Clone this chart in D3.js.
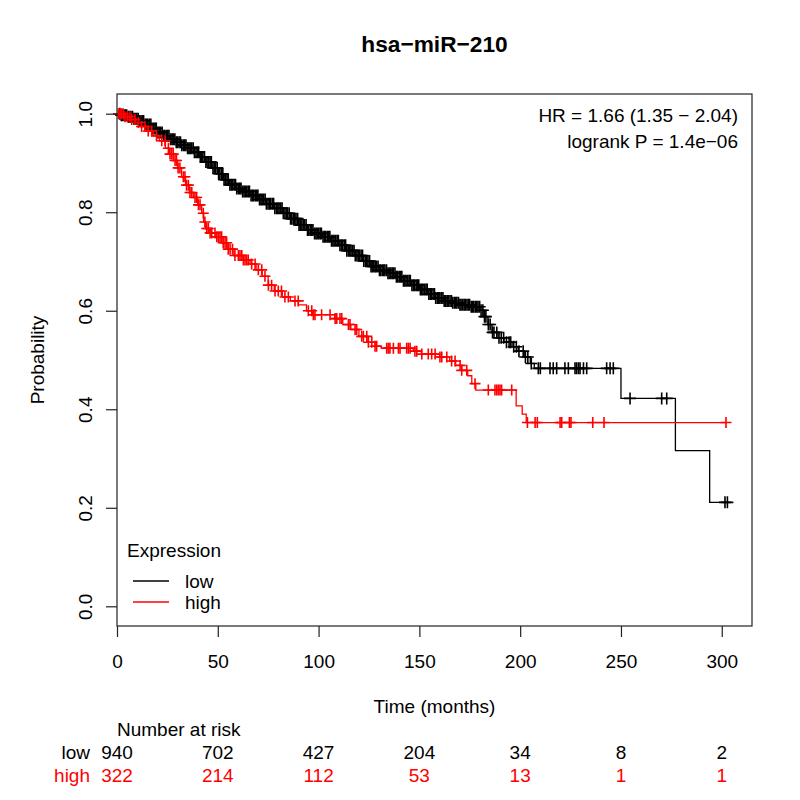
<!DOCTYPE html>
<html>
<head>
<meta charset="utf-8">
<script src="https://cdn.jsdelivr.net/npm/d3@7"></script>
<style>
  body { margin: 0; background: #fff; }
  text { font-family: "Liberation Sans", Arial, Helvetica, sans-serif; }
</style>
</head>
<body>
<script>
let w = 800;
let h = 800;

// Kaplan-Meier steps (time in months, survival after the step)
const lowTime = [0, 2, 5, 8, 11, 14, 17, 20, 23, 26, 29, 32, 35, 38, 41, 44, 47, 50, 53, 56, 59, 62, 66, 70, 74, 78, 82, 86, 90, 94, 98, 102, 106, 110, 114, 118, 122, 126, 130, 134, 138, 142, 146, 150, 154, 158, 162, 166, 170, 175, 180, 182, 184, 186, 189, 192, 196, 199, 202, 205, 207, 250, 277, 294];
const lowSurv = [1.0, 0.997, 0.994, 0.99, 0.985, 0.978, 0.97, 0.962, 0.955, 0.948, 0.942, 0.936, 0.93, 0.922, 0.912, 0.902, 0.89, 0.878, 0.866, 0.856, 0.848, 0.842, 0.834, 0.826, 0.817, 0.808, 0.798, 0.787, 0.774, 0.764, 0.757, 0.75, 0.742, 0.733, 0.722, 0.712, 0.701, 0.69, 0.682, 0.676, 0.669, 0.661, 0.652, 0.643, 0.634, 0.626, 0.62, 0.616, 0.612, 0.608, 0.601, 0.588, 0.572, 0.556, 0.545, 0.536, 0.527, 0.518, 0.506, 0.493, 0.483, 0.422, 0.316, 0.211];
const lowCensor = [1.4, 2.1, 2.7, 3.5, 4.2, 4.8, 5.6, 6.3, 6.9, 7.7, 8.4, 9.0, 9.8, 10.5, 11.1, 11.9, 12.6, 13.2, 14.0, 14.7, 15.3, 16.1, 16.8, 17.4, 18.2, 18.9, 19.5, 20.3, 21.0, 21.6, 22.4, 23.1, 23.7, 24.5, 25.2, 25.8, 26.6, 27.3, 27.9, 28.7, 29.4, 30.0, 30.8, 31.5, 32.1, 32.9, 33.6, 34.2, 35.0, 35.7, 36.3, 37.1, 37.8, 38.4, 39.2, 39.9, 40.5, 41.3, 42.0, 42.6, 43.4, 44.1, 44.7, 45.5, 46.2, 46.8, 47.6, 48.3, 48.9, 49.7, 50.4, 51.0, 51.8, 52.5, 53.1, 53.9, 54.6, 55.2, 56.0, 56.7, 57.3, 58.1, 58.8, 59.4, 60.2, 60.9, 61.5, 62.3, 63.0, 63.6, 64.4, 65.1, 65.7, 66.5, 67.2, 67.8, 68.6, 69.3, 69.9, 70.7, 71.4, 72.0, 72.8, 73.5, 74.1, 74.9, 75.6, 76.2, 77.0, 77.7, 78.3, 79.1, 79.8, 80.4, 81.2, 81.9, 82.5, 83.3, 84.0, 84.6, 85.4, 86.1, 86.7, 87.5, 88.2, 88.8, 89.6, 90.3, 90.9, 91.7, 92.4, 93.0, 93.8, 94.5, 95.1, 95.9, 96.6, 97.2, 98.0, 98.7, 99.3, 100.1, 100.8, 101.4, 102.2, 102.9, 103.5, 104.3, 105.0, 105.6, 106.4, 107.1, 107.7, 108.5, 109.2, 109.8, 110.6, 111.3, 111.9, 112.7, 113.4, 114.0, 114.8, 115.5, 116.1, 116.9, 117.6, 118.2, 119.0, 119.7, 120.3, 121.1, 121.8, 122.4, 123.2, 123.9, 124.5, 125.3, 126.0, 126.6, 127.4, 128.1, 128.7, 129.5, 130.2, 130.8, 131.6, 132.3, 132.9, 133.7, 134.4, 135.0, 135.8, 136.5, 137.1, 137.9, 138.6, 139.2, 140.0, 140.7, 141.3, 142.1, 142.8, 143.4, 144.2, 144.9, 145.5, 146.3, 147.0, 147.6, 148.4, 149.1, 149.7, 150.5, 151.2, 151.8, 152.6, 153.3, 153.9, 154.7, 155.4, 156.0, 156.8, 157.5, 158.1, 158.9, 159.6, 160.2, 161.0, 161.7, 162.3, 163.1, 163.8, 164.4, 165.2, 165.9, 166.5, 167.3, 168.0, 168.6, 169.4, 170.1, 170.7, 171.5, 172.2, 172.8, 173.6, 174.3, 174.9, 175.7, 176.4, 177.0, 177.8, 178.5, 179.1, 179.9, 180.6, 181.5, 182.3, 183.0, 184.2, 185.1, 186.3, 187.0, 188.4, 189.5, 190.6, 191.8, 193.2, 194.5, 195.3, 196.8, 198.1, 199.4, 201.5, 202.6, 203.8, 205.5, 209, 210, 214.8, 216.4, 218.1, 222.2, 223.9, 227.2, 228, 228.9, 229.7, 231.4, 233, 242.9, 244.6, 246.2, 254.5, 270.2, 272.7, 301.6, 302.8];

const highTime = [0, 4, 7, 9, 12, 15, 18, 21, 24, 26, 28, 30, 32, 34, 36, 38, 40, 42, 43, 44, 46, 49, 52, 55, 58, 62, 66, 69, 72, 75, 78, 82, 86, 90, 94, 97, 108, 112, 116, 120, 124, 128, 131, 147, 151, 160, 165, 168, 171, 174, 176, 178, 198, 201, 203];
const highSurv = [1.0, 0.994, 0.988, 0.982, 0.974, 0.965, 0.955, 0.945, 0.93, 0.918, 0.905, 0.89, 0.872, 0.855, 0.84, 0.83, 0.815, 0.798, 0.78, 0.767, 0.758, 0.75, 0.738, 0.725, 0.712, 0.703, 0.695, 0.683, 0.67, 0.652, 0.64, 0.628, 0.62, 0.612, 0.6, 0.592, 0.584, 0.572, 0.562, 0.548, 0.536, 0.528, 0.524, 0.518, 0.512, 0.506, 0.498, 0.489, 0.479, 0.468, 0.452, 0.439, 0.407, 0.39, 0.373];
const highCensor = [0.7, 1.5, 2.3, 3.1, 4, 5.2, 6.4, 7.3, 8.9, 10.6, 12.2, 13.9, 15.5, 17.2, 19.6, 22.2, 23.8, 25.5, 26.3, 27.1, 27.9, 28.8, 29.5, 30.3, 31.2, 32.9, 33.7, 34.5, 35.4, 36.2, 37.1, 38.7, 39.5, 40.4, 41.2, 42.8, 43.6, 44.5, 45.3, 46.2, 47, 48.6, 49.5, 50.3, 51.1, 51.9, 52.7, 53.6, 54.4, 55.2, 56.1, 57.3, 58.5, 60.2, 61, 61.9, 62.7, 63.5, 64.3, 65.1, 66.8, 68.5, 70.1, 71.8, 73.4, 75.1, 76.7, 78.4, 80, 81.6, 83.3, 85, 88.3, 89.9, 94.9, 96.6, 97.4, 98.2, 101.5, 105.7, 108.2, 109, 110.6, 111.5, 114.8, 115.6, 118.1, 118.9, 121.4, 122.2, 123.9, 124.7, 126.4, 128, 128.8, 133.8, 134.6, 135.4, 137.1, 139.6, 140.4, 143.7, 144.5, 145.4, 147.8, 148.7, 151.2, 154.4, 156.1, 157.8, 160.2, 161.1, 163.6, 166, 167.7, 170.2, 171, 173.5, 177.6, 184.2, 187.5, 188.4, 189.2, 190, 190.8, 195.8, 203.6, 207.4, 208.5, 219.8, 220.6, 224.4, 225.2, 236, 241.6, 302.1];

const groups = ["low", "high"];
const groupColors = ["black", "red"];

const xTicks = [0, 50, 100, 150, 200, 250, 300];
const yTicks = [0, 0.2, 0.4, 0.6, 0.8, 1.0];
const riskLow = [940, 702, 427, 204, 34, 8, 2];
const riskHigh = [322, 214, 112, 53, 13, 1, 1];

const plotLeft = 117, plotRight = 752, plotTop = 94, plotBottom = 626;

let x = d3.scaleLinear().domain([0, 315]).range([plotLeft, plotRight]);
let y = d3.scaleLinear().domain([-0.04, 1.04]).range([plotBottom, plotTop]);

let svg = d3.select("body").append("svg").attr("width", w).attr("height", h);

// build step data, extend to last censored time
function makeSteps(times, surv, censor) {
  let pts = times.map(function (t, i) {
    return { t: t, s: surv[i] };
  });
  pts.push({ t: d3.max(censor), s: surv[surv.length - 1] });
  return pts;
}

function survAt(times, surv, t) {
  let i = d3.bisectRight(times, t) - 1;
  return surv[Math.max(i, 0)];
}

const curves = [
  { steps: makeSteps(lowTime, lowSurv, lowCensor), times: lowTime, surv: lowSurv, censor: lowCensor, mark: 6 },
  { steps: makeSteps(highTime, highSurv, highCensor), times: highTime, surv: highSurv, censor: highCensor, mark: 5.5 },
];

const stepLine = d3
  .line()
  .x(function (d) {
    return x(d.t);
  })
  .y(function (d) {
    return y(d.s);
  })
  .curve(d3.curveStepAfter);

// title
svg
  .append("text")
  .attr("x", (plotLeft + plotRight) / 2)
  .attr("y", 52)
  .attr("text-anchor", "middle")
  .attr("font-size", "22.7px")
  .attr("font-weight", "bold")
  .text("hsa\u2212miR\u2212210");

// curves and censor marks
curves.forEach(function (c, gi) {
  svg
    .append("path")
    .attr("d", stepLine(c.steps))
    .attr("fill", "none")
    .attr("stroke", groupColors[gi])
    .attr("stroke-width", 1.3);

  svg
    .append("g")
    .selectAll("path")
    .data(c.censor)
    .enter()
    .append("path")
    .attr("d", function (t) {
      let cx = x(t);
      let cy = y(survAt(c.times, c.surv, t));
      return "M" + (cx - c.mark) + "," + cy + "H" + (cx + c.mark) + "M" + cx + "," + (cy - c.mark) + "V" + (cy + c.mark);
    })
    .attr("stroke", groupColors[gi])
    .attr("stroke-width", 1.6)
    .attr("fill", "none");
});

// box
svg
  .append("rect")
  .attr("x", plotLeft)
  .attr("y", plotTop)
  .attr("width", plotRight - plotLeft)
  .attr("height", plotBottom - plotTop)
  .attr("fill", "none")
  .attr("stroke", "#222")
  .attr("stroke-width", 1.2);

// x axis
let xAxis = svg
  .append("g")
  .attr("transform", "translate(0," + plotBottom + ")")
  .call(d3.axisBottom(x).tickValues(xTicks).tickSize(11).tickFormat(d3.format("d")));
xAxis.select(".domain").remove();
xAxis.selectAll("line").attr("stroke", "#222").attr("stroke-width", 1.2);
xAxis
  .selectAll("text")
  .attr("y", 42)
  .attr("dy", 0)
  .attr("font-size", "19px")
  .attr("font-family", "Liberation Sans, Arial, sans-serif")
  .attr("fill", "black");

// y axis with rotated labels
let yAxis = svg
  .append("g")
  .attr("transform", "translate(" + plotLeft + ",0)")
  .call(d3.axisLeft(y).tickValues(yTicks).tickSize(11).tickFormat(d3.format(".1f")));
yAxis.select(".domain").remove();
yAxis.selectAll("line").attr("stroke", "#222").attr("stroke-width", 1.2);
yAxis
  .selectAll("text")
  .attr("transform", "rotate(-90)")
  .attr("x", 0)
  .attr("y", -25)
  .attr("dy", 0)
  .attr("text-anchor", "middle")
  .attr("font-size", "19px")
  .attr("font-family", "Liberation Sans, Arial, sans-serif")
  .attr("fill", "black");

// axis titles
svg
  .append("text")
  .attr("x", (plotLeft + plotRight) / 2)
  .attr("y", 713)
  .attr("text-anchor", "middle")
  .attr("font-size", "19px")
  .text("Time (months)");

svg
  .append("text")
  .attr("transform", "translate(44," + (plotTop + plotBottom) / 2 + ") rotate(-90)")
  .attr("text-anchor", "middle")
  .attr("font-size", "19px")
  .text("Probability");

// HR and logrank text
svg
  .append("text")
  .attr("x", 738)
  .attr("y", 122)
  .attr("text-anchor", "end")
  .attr("font-size", "19px")
  .text("HR = 1.66 (1.35 \u2212 2.04)");

svg
  .append("text")
  .attr("x", 738)
  .attr("y", 148)
  .attr("text-anchor", "end")
  .attr("font-size", "19px")
  .text("logrank P = 1.4e\u221206");

// legend
svg
  .append("text")
  .attr("x", 127)
  .attr("y", 557)
  .attr("font-size", "19px")
  .text("Expression");

let legend = svg
  .selectAll(".legend")
  .data(groups)
  .enter()
  .append("g")
  .attr("class", "legend")
  .attr("transform", function (d, i) {
    return "translate(0," + (581 + i * 21) + ")";
  });
legend
  .append("line")
  .attr("x1", 133)
  .attr("x2", 169)
  .attr("stroke", function (d, i) {
    return groupColors[i];
  })
  .attr("stroke-width", 1.3);
legend
  .append("text")
  .attr("x", 185)
  .attr("y", 6.5)
  .attr("font-size", "19px")
  .text(function (d) {
    return d;
  });

// number at risk table
svg
  .append("text")
  .attr("x", 117)
  .attr("y", 736)
  .attr("font-size", "19px")
  .text("Number at risk");

const riskRows = [riskLow, riskHigh];
riskRows.forEach(function (row, gi) {
  let rowY = 759 + gi * 23;
  svg
    .append("text")
    .attr("x", 90)
    .attr("y", rowY)
    .attr("text-anchor", "end")
    .attr("font-size", "19px")
    .attr("fill", groupColors[gi])
    .text(groups[gi]);
  svg
    .append("g")
    .selectAll("text")
    .data(row)
    .enter()
    .append("text")
    .attr("x", function (d, i) {
      return x(xTicks[i]);
    })
    .attr("y", rowY)
    .attr("text-anchor", "middle")
    .attr("font-size", "19px")
    .attr("fill", groupColors[gi])
    .text(function (d) {
      return d;
    });
});
</script>
</body>
</html>
